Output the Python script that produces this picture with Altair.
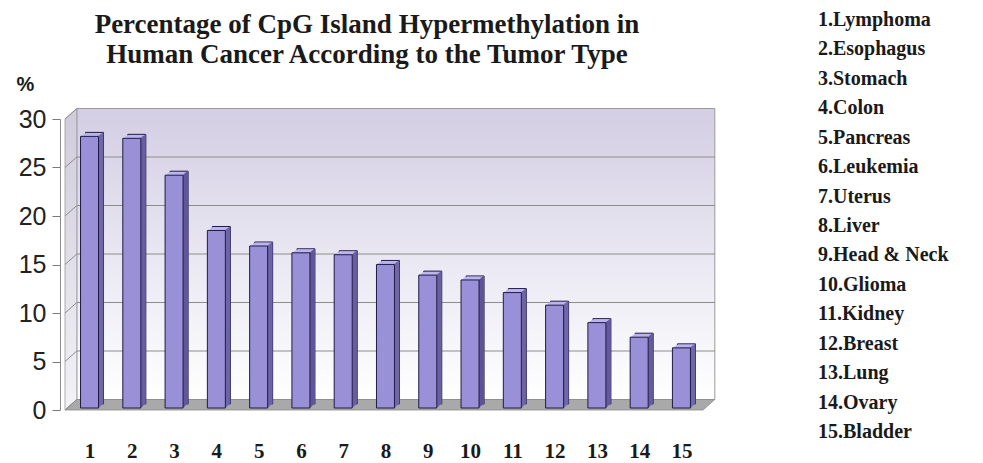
import altair as alt
import pandas as pd

# ---- data ----
idx = list(range(1, 16))
tumors = ["Lymphoma", "Esophagus", "Stomach", "Colon", "Pancreas", "Leukemia",
          "Uterus", "Liver", "Head & Neck", "Glioma", "Kidney", "Breast",
          "Lung", "Ovary", "Bladder"]
values = [28.0, 27.8, 24.0, 18.3, 16.7, 16.0, 15.8, 14.8, 13.7, 13.2, 11.9, 10.6, 8.8, 7.3, 6.2]
y_ticks = [0, 5, 10, 15, 20, 25, 30]
title_lines = ["Percentage of CpG Island Hypermethylation in",
               "Human Cancer According to the Tumor Type"]

# ---- geometry / style ----
W, H = 648, 291
X0, X1 = 0.42, 15.51
YMAX = 30
PX_X = W / (X1 - X0)
PX_Y = H / YMAX
DX = 12 / PX_X      # depth of the 3-D box in data units
DY = 10.5 / PX_Y

FRONT = "#9a90d8"
SIDE = "#5d5497"
TOP = "#bdb5ee"
OUTLINE = "#201a44"
TXT = "#1a1a1a"

xs = alt.Scale(domain=[X0, X1], nice=False, zero=False)
ys = alt.Scale(domain=[0, YMAX], nice=False, zero=True)

XAX = alt.Axis(values=idx, format="d", title=None, ticks=False, domain=False,
               grid=False, labelFont="Liberation Serif", labelFontWeight="bold",
               labelFontSize=21, labelColor=TXT, labelPadding=30,
               labelFlush=False, labelOverlap=False, labelBound=False)
YAX = alt.Axis(values=y_ticks, title="%", titleAngle=0, titleX=-35, titleY=-35,
               titleAlign="center", titleBaseline="middle",
               titleFont="Liberation Sans", titleFontSize=20, titleFontWeight="bold",
               titleColor=TXT, grid=False, tickSize=8, tickColor="#7a7a7a",
               domainColor="#8a8a8a", labelFont="Liberation Sans",
               labelFontSize=25, labelColor="#222222", labelPadding=6,
               labelFlush=False, labelOverlap=False)


def X(f):
    return alt.X(f, scale=xs, axis=XAX)


def Y(f):
    return alt.Y(f, scale=ys, axis=YAX)


bars = pd.DataFrame({"idx": idx, "value": values, "name": tumors})

# back wall
wall = pd.DataFrame({"x": [X0 + DX], "x2": [X1 + DX], "y": [DY], "y2": [YMAX + DY]})
back_wall = alt.Chart(wall).mark_rect(
    fill=alt.Gradient(gradient="linear", x1=0, x2=0, y1=0, y2=1,
                      stops=[alt.GradientStop(color="#d3cee3", offset=0),
                             alt.GradientStop(color="#ebe9f3", offset=0.55),
                             alt.GradientStop(color="#ffffff", offset=1)]),
    stroke="#9a9a9a", strokeWidth=1
).encode(x=X("x:Q"), x2="x2:Q", y=Y("y:Q"), y2="y2:Q")

# left wall
lw = pd.DataFrame({"x": [X0, X0 + DX], "y": [YMAX, YMAX + DY], "y2": [0, DY]})
left_wall = alt.Chart(lw).mark_area(
    fill=alt.Gradient(gradient="linear", x1=0, x2=0, y1=0, y2=1,
                      stops=[alt.GradientStop(color="#cfcbdc", offset=0),
                             alt.GradientStop(color="#f3f2f6", offset=1)]),
    stroke="#9a9a9a", strokeWidth=0.8
).encode(x=X("x:Q"), y=Y("y:Q"), y2="y2:Q")

# floor
fl = pd.DataFrame({"x": [X0, X0 + DX, X1, X1 + DX],
                   "y": [0, DY, DY, DY], "y2": [0, 0, 0, DY]})
floor = alt.Chart(fl).mark_area(fill="#a9a9a9", stroke="#8a8a8a", strokeWidth=0.8).encode(
    x=X("x:Q"), y=Y("y:Q"), y2="y2:Q")

# gridlines on back wall
gb = pd.DataFrame({"x": [X0 + DX] * 5, "x2": [X1 + DX] * 5, "y": [v + DY for v in y_ticks[1:-1]]})
back_grid = alt.Chart(gb).mark_rule(color="#8c8c8c", strokeWidth=1).encode(
    x=X("x:Q"), x2="x2:Q", y=Y("y:Q"))

# slanted gridlines on left wall
gl = pd.DataFrame({"x": [X0] * 7, "x2": [X0 + DX] * 7,
                   "y": y_ticks, "y2": [v + DY for v in y_ticks]})
left_grid = alt.Chart(gl).mark_rule(color="#8c8c8c", strokeWidth=1).encode(
    x=X("x:Q"), x2="x2:Q", y=Y("y:Q"), y2="y2:Q")

base = alt.Chart(bars)
enc = dict(x=X("idx:Q"), y=Y("value:Q"))

# extrusion (top face colour)
extr = []
for k in range(5, 0, -1):
    kw = dict(size=18, xOffset=k, yOffset=-2 - 0.8 * k, y2Offset=-2 - 0.8 * k, fill=TOP)
    if k == 5:
        kw.update(stroke=OUTLINE, strokeWidth=1)
    extr.append(base.mark_bar(**kw).encode(**enc))
# right side face
sides = []
for k in range(1, 6):
    sides.append(base.mark_bar(size=1.1, xOffset=9 + k - 0.5, yOffset=-2 - 0.8 * k,
                               y2Offset=-2 - 0.8 * k, fill=SIDE).encode(**enc))
# front face
front = base.mark_bar(size=18, yOffset=-2, y2Offset=-2, fill=FRONT,
                      stroke=OUTLINE, strokeWidth=1).encode(**enc)

main = alt.layer(back_wall, left_wall, floor, back_grid, left_grid, *extr, *sides, front)

# legend list on the right
leg = pd.DataFrame({"idx": idx, "label": [f"{i}.{t}" for i, t in zip(idx, tumors)]})
legend = alt.Chart(leg).mark_text(x=758, align="left", baseline="alphabetic",
                                  font="Liberation Serif", fontWeight="bold",
                                  fontSize=20, color=TXT).encode(
    y=alt.Y("idx:Q", scale=alt.Scale(domain=[1, 15], range=[-93, 319]), axis=None),
    text="label:N")

# title lines
t1 = alt.Chart(pd.DataFrame({"t": [title_lines[0]]})).mark_text(
    x=307, y=-86, align="center", baseline="alphabetic", font="Liberation Serif",
    fontWeight="bold", fontSize=27, color=TXT).encode(text="t:N")
t2 = alt.Chart(pd.DataFrame({"t": [title_lines[1]]})).mark_text(
    x=307, y=-56, align="center", baseline="alphabetic", font="Liberation Serif",
    fontWeight="bold", fontSize=27, color=TXT).encode(text="t:N")

chart = alt.layer(main, legend, t1, t2).resolve_scale(y="independent").properties(
    width=W, height=H,
    autosize=alt.AutoSizeParams(type="none"),
    padding={"left": 52, "top": 111, "right": 267, "bottom": 53},
    background="white",
).configure_view(stroke=None)

chart.save("out.html", embed_options={"renderer": "svg", "actions": False})
